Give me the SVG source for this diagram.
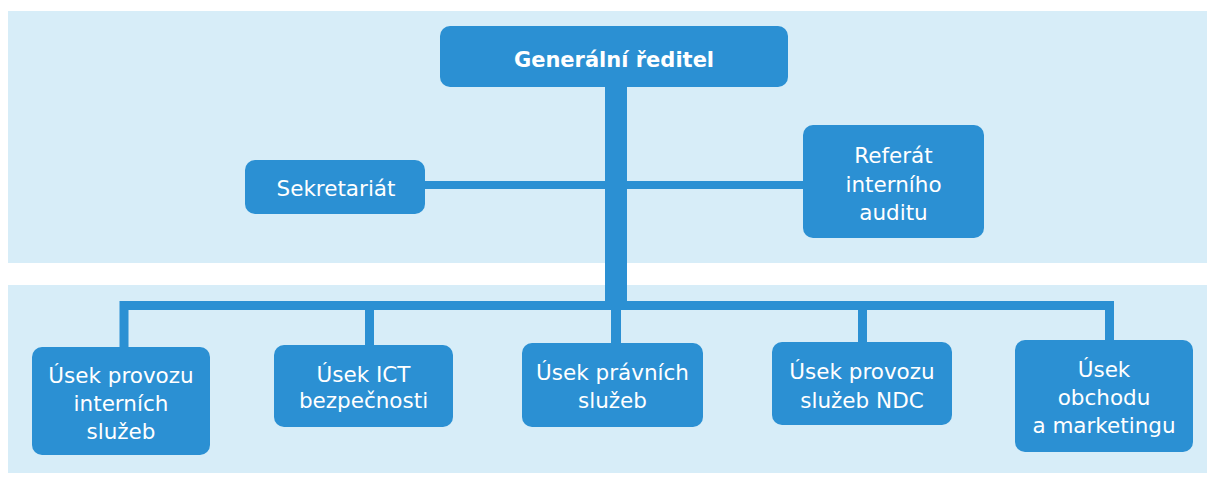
<svg xmlns="http://www.w3.org/2000/svg" width="1207" height="481" viewBox="0 0 1207 481">
  <style>
    .panel { fill: #d7edf8; }
    .box { fill: #2b90d3; }
    .conn { stroke: #2b90d3; fill: none; stroke-linecap: butt; }
    .t { font-family: "DejaVu Sans", Verdana, sans-serif; font-size: 21.5px; fill: #ffffff; text-anchor: middle; }
    .tb { font-family: "DejaVu Sans", Verdana, sans-serif; font-size: 21px; font-weight: bold; fill: #ffffff; text-anchor: middle; }
  </style>
  <rect x="0" y="0" width="1207" height="481" fill="#ffffff"/>
  <g id="panels">
    <rect class="panel" x="8" y="11" width="1199" height="252"/>
    <rect class="panel" x="8" y="285" width="1199" height="188"/>
  </g>
  <g id="connectors">
    <line class="conn" x1="616" y1="86" x2="616" y2="306" stroke-width="22"/>
    <line class="conn" x1="424" y1="185" x2="804" y2="185" stroke-width="8"/>
    <polyline class="conn" points="124,348 124,305.5 1109.5,305.5 1109.5,341" stroke-width="9"/>
    <line class="conn" x1="369.5" y1="305" x2="369.5" y2="346" stroke-width="9"/>
    <line class="conn" x1="616" y1="305" x2="616" y2="344" stroke-width="10"/>
    <line class="conn" x1="862.5" y1="305" x2="862.5" y2="343" stroke-width="9"/>
  </g>
  <g id="n-reditel">
    <rect class="box" x="440" y="26" width="348" height="61" rx="10"/>
    <text class="tb" x="614" y="67">Generální ředitel</text>
  </g>
  <g id="n-sekretariat">
    <rect class="box" x="245" y="160" width="180" height="54" rx="10"/>
    <text class="t" x="336" y="196">Sekretariát</text>
  </g>
  <g id="n-referat">
    <rect class="box" x="803" y="125" width="181" height="113" rx="10"/>
    <text class="t" x="893.5" y="163">Referát</text>
    <text class="t" x="893.5" y="192">interního</text>
    <text class="t" x="893.5" y="220">auditu</text>
  </g>
  <g id="n-provoz-int">
    <rect class="box" x="32" y="347" width="178" height="108" rx="10"/>
    <text class="t" x="121" y="383">Úsek provozu</text>
    <text class="t" x="121" y="411">interních</text>
    <text class="t" x="121" y="439">služeb</text>
  </g>
  <g id="n-ict">
    <rect class="box" x="274" y="345" width="179" height="82" rx="10"/>
    <text class="t" x="363.5" y="382">Úsek ICT</text>
    <text class="t" x="363.5" y="408">bezpečnosti</text>
  </g>
  <g id="n-pravni">
    <rect class="box" x="522" y="343" width="181" height="84" rx="10"/>
    <text class="t" x="612.5" y="380">Úsek právních</text>
    <text class="t" x="612.5" y="408">služeb</text>
  </g>
  <g id="n-ndc">
    <rect class="box" x="772" y="342" width="180" height="83" rx="10"/>
    <text class="t" x="862" y="379">Úsek provozu</text>
    <text class="t" x="862" y="408">služeb NDC</text>
  </g>
  <g id="n-obchod">
    <rect class="box" x="1015" y="340" width="178" height="112" rx="10"/>
    <text class="t" x="1104" y="377">Úsek</text>
    <text class="t" x="1104" y="405">obchodu</text>
    <text class="t" x="1104" y="433">a marketingu</text>
  </g>
</svg>
